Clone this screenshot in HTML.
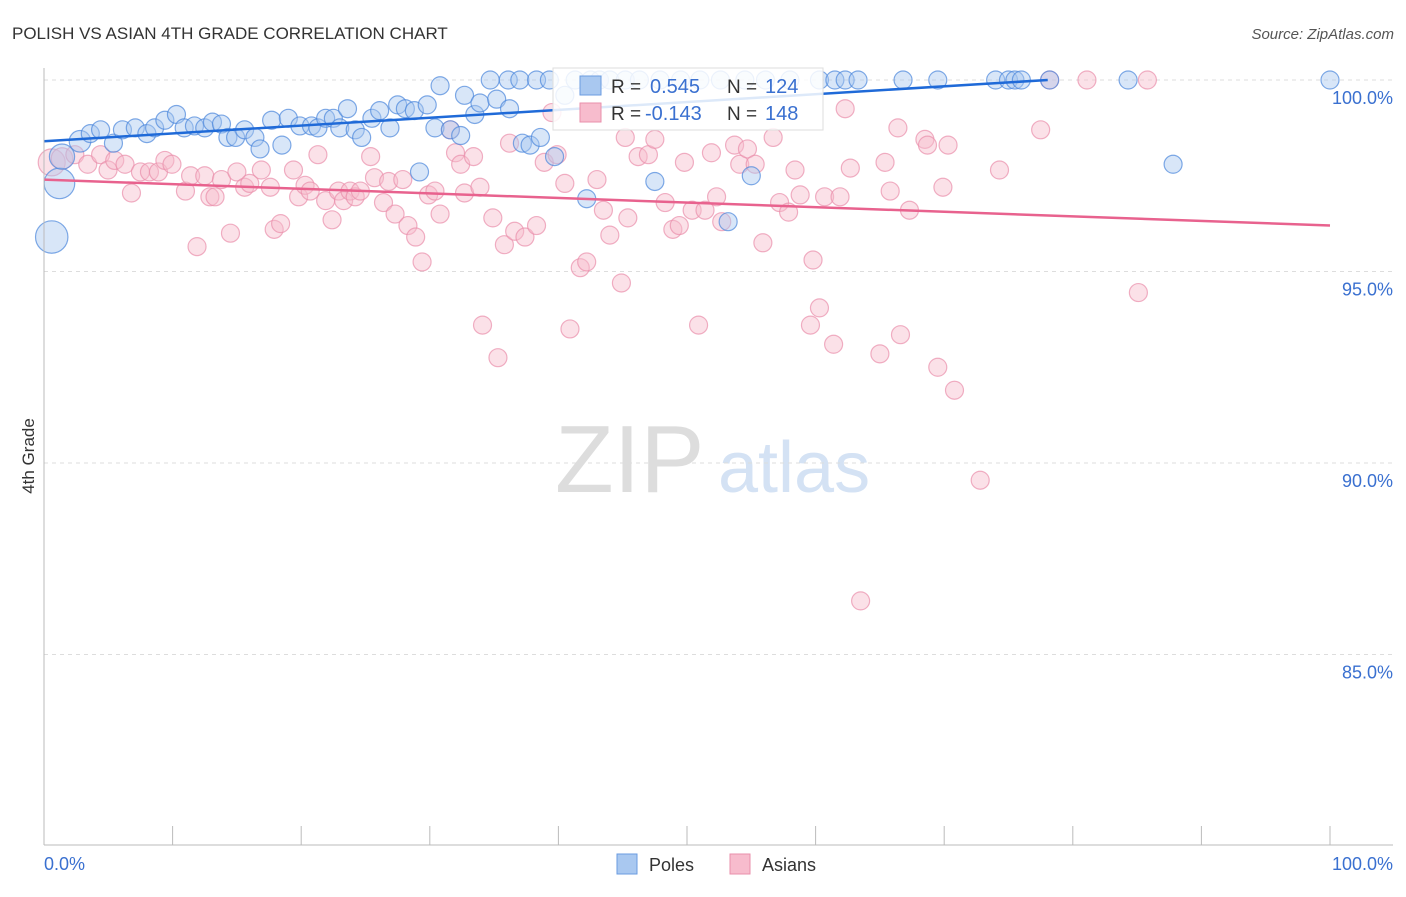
<!DOCTYPE html>
<html><head><meta charset="utf-8"><style>
body{margin:0;background:#fff;font-family:"Liberation Sans",sans-serif;}
svg text{font-family:"Liberation Sans",sans-serif;}
</style></head><body>
<svg id="c" width="1406" height="892">
<text x="12" y="39" font-size="17" fill="#333">POLISH VS ASIAN 4TH GRADE CORRELATION CHART</text>
<text x="1394" y="39" font-size="15" fill="#555" text-anchor="end" font-style="italic">Source: ZipAtlas.com</text>
<text x="555" y="492" font-size="96" fill="#ddd" font-family="Liberation Serif,serif">ZIP</text>
<text x="718" y="492" font-size="72" fill="#d4e2f4">atlas</text>
<g id="grid"></g><g id="pts"></g><g id="axes"></g>
<text transform="translate(34,456) rotate(-90)" font-size="17" fill="#333" text-anchor="middle">4th Grade</text>
<g>
<rect x="553" y="68" width="270" height="62" fill="#fff" fill-opacity="0.85" stroke="#ddd"/>
<rect x="580" y="76" width="21" height="19" fill="#a9c8f0" stroke="#6a9be0"/>
<rect x="580" y="103" width="21" height="19" fill="#f7bccd" stroke="#ea8fab"/>
<text x="611" y="93" font-size="19" fill="#333">R = </text><text x="650" y="93" font-size="20" fill="#3a70d0">0.545</text>
<text x="727" y="93" font-size="19" fill="#333">N = </text><text x="765" y="93" font-size="20" fill="#3a70d0">124</text>
<text x="611" y="120" font-size="19" fill="#333">R = </text><text x="645" y="120" font-size="20" fill="#3a70d0">-0.143</text>
<text x="727" y="120" font-size="19" fill="#333">N = </text><text x="765" y="120" font-size="20" fill="#3a70d0">148</text>
</g>
<g>
<rect x="617" y="854" width="20" height="20" fill="#a9c8f0" stroke="#6a9be0"/>
<text x="649" y="871" font-size="18" fill="#333">Poles</text>
<rect x="730" y="854" width="20" height="20" fill="#f7bccd" stroke="#ea8fab"/>
<text x="762" y="871" font-size="18" fill="#333">Asians</text>
</g>
</svg>
<script>
const yTicks=[100,95,90,85];
const xTickLabels=["0.0%","100.0%"];
const polesX=[1.2,0.6,1.4,2.8,3.6,4.4,5.4,6.1,7.1,8.0,8.6,9.4,10.3,10.9,11.7,12.5,13.1,13.8,14.3,14.9,15.6,16.4,16.8,17.7,18.5,19.0,19.9,20.8,21.3,21.9,22.5,23.0,23.6,24.2,24.7,25.5,26.1,26.9,27.5,28.1,28.8,29.8,29.2,30.4,30.8,31.6,32.4,32.7,33.5,33.9,34.7,35.2,36.1,36.2,37.0,37.2,37.8,38.3,38.6,39.3,39.7,40.5,41.3,42.2,42.5,43.2,44.0,45.2,46.3,47.5,47.9,49.5,51.0,52.6,53.2,54.5,55.0,56.1,58.0,60.3,61.5,62.3,63.3,66.8,69.5,74.0,75.0,75.5,76.0,78.2,84.3,87.8,100];
const polesY=[97.3,95.9,98.0,98.4,98.6,98.7,98.35,98.7,98.75,98.6,98.75,98.95,99.1,98.75,98.8,98.75,98.9,98.85,98.5,98.5,98.7,98.5,98.2,98.95,98.3,99.0,98.8,98.8,98.75,99.0,99.0,98.75,99.25,98.7,98.5,99.0,99.2,98.75,99.35,99.25,99.2,99.35,97.6,98.75,99.85,98.7,98.55,99.6,99.1,99.4,100,99.5,100,99.25,100,98.35,98.3,100,98.5,100,98.0,99.6,100,96.9,100,100,100,100,100,97.35,100,100,100,100,96.3,100,97.5,100,100,100,100,100,100,100,100,100,100,100,100,100,100,97.8,100];
const polesW=[1.7,1.8,1.4,1.2];
const asiansX=[0.6,1.4,2.4,3.4,4.4,4.98,5.5,6.3,6.8,7.5,8.2,8.9,9.4,9.95,11.0,11.4,11.9,12.5,12.9,13.3,13.8,14.5,15.0,15.6,16.0,16.9,17.6,17.9,18.4,19.4,19.8,20.3,20.7,21.3,21.9,22.4,22.9,23.3,23.8,24.2,24.6,25.4,25.7,26.4,26.8,27.3,27.9,28.3,28.9,29.4,29.9,30.4,30.8,31.6,32.0,32.4,32.7,33.4,33.9,34.1,34.9,35.3,35.8,36.2,36.6,37.4,38.3,38.9,39.5,39.9,40.5,40.9,41.7,42.2,43.0,43.5,44.0,44.9,45.2,45.4,46.2,47.0,47.5,48.3,48.9,49.4,49.8,50.4,50.9,51.4,51.9,52.3,52.7,53.7,54.1,54.7,55.3,55.9,56.7,57.2,57.9,58.4,58.8,59.6,59.8,60.3,60.7,61.4,61.9,62.3,62.7,63.5,65.0,65.4,65.8,66.4,66.6,67.3,68.5,68.7,69.5,69.9,70.3,70.8,72.8,74.3,77.5,78.2,81.1,85.1,85.8];
const asiansY=[97.85,97.95,98.05,97.8,98.05,97.65,97.9,97.8,97.05,97.6,97.6,97.6,97.9,97.8,97.1,97.5,95.65,97.5,96.95,96.95,97.4,96.0,97.6,97.2,97.3,97.65,97.2,96.1,96.25,97.65,96.95,97.25,97.1,98.05,96.85,96.35,97.1,96.85,97.1,96.95,97.1,98.0,97.45,96.8,97.35,96.5,97.4,96.2,95.9,95.25,97.0,97.1,96.5,98.7,98.1,97.8,97.05,98.0,97.2,93.6,96.4,92.75,95.7,98.35,96.05,95.9,96.2,97.85,99.15,98.05,97.3,93.5,95.1,95.25,97.4,96.6,95.95,94.7,98.5,96.4,98.0,98.05,98.45,96.8,96.1,96.2,97.85,96.6,93.6,96.6,98.1,96.95,96.3,98.3,97.8,98.2,97.8,95.75,98.5,96.8,96.55,97.65,97.0,93.6,95.3,94.05,96.95,93.1,96.95,99.25,97.7,86.4,92.85,97.85,97.1,98.75,93.35,96.6,98.45,98.3,92.5,97.2,98.3,91.9,89.55,97.65,98.7,100,100,94.45,100];
const asiansW=[1.5,1.2];
const polesTrend=[98.4,100.45];
const asiansTrend=[97.4,96.2];
const X0=44,X1=1330,Y100=80,PX=38.3;
const sx=v=>X0+(X1-X0)*v/100;
const sy=v=>Y100+(100-v)*PX;
const NS="http://www.w3.org/2000/svg";
function mk(t,a,p){const e=document.createElementNS(NS,t);for(const k in a)e.setAttribute(k,a[k]);p.appendChild(e);return e;}
const grid=document.getElementById('grid'),pts=document.getElementById('pts'),axes=document.getElementById('axes');
yTicks.forEach(v=>{
 const l=mk('line',{x1:X0,x2:1393,y1:sy(v),y2:sy(v),stroke:'#ddd','stroke-dasharray':'4,4'},grid);
 
 
 const t=mk('text',{x:1393,y:sy(v)+24,'font-size':18,fill:'#3a70d0','text-anchor':'end'},grid);
 t.textContent=v.toFixed(1)+'%';
 
 
});
function series(xs,ys,ws,fill,stroke,name){
 xs.forEach((x,i)=>{
  const r=9*(ws[i]||1);
  const c=mk('circle',{cx:sx(x),cy:sy(ys[i]),r:r,fill:fill,'fill-opacity':0.45,stroke:stroke,'stroke-opacity':0.7,'stroke-width':1.2},pts);
  
  
 });
}
series(asiansX,asiansY,asiansW,'#f7bccd','#ea8fab','asians-point');
series(polesX,polesY,polesW,'#a9c8f0','#4a86dc','poles-point');
let xe=Math.min(100,(100-polesTrend[0])/((polesTrend[1]-polesTrend[0])/100));
const bt=mk('line',{x1:sx(0),y1:sy(polesTrend[0]),x2:sx(xe),y2:sy(polesTrend[0]+(polesTrend[1]-polesTrend[0])*xe/100),stroke:'#1f6ad8','stroke-width':2.5},pts);


const pt=mk('line',{x1:sx(0),y1:sy(asiansTrend[0]),x2:sx(100),y2:sy(asiansTrend[1]),stroke:'#e8628e','stroke-width':2.5},pts);


const ax=mk('line',{x1:X0,x2:1393,y1:845,y2:845,stroke:'#bbb'},axes);


const ay=mk('line',{x1:X0,x2:X0,y1:68,y2:845,stroke:'#bbb'},axes);


for(let i=0;i<=10;i++){
 const t=mk('line',{x1:sx(i*10),x2:sx(i*10),y1:826,y2:845,stroke:'#bbb'},axes);
 
 
}
[[0,'start',44],[1,'end',1393]].forEach(([i,a,x])=>{
 const t=mk('text',{x:x,y:870,'font-size':18,fill:'#3a70d0','text-anchor':a},axes);
 t.textContent=xTickLabels[i];
 
 
});
</script>
</body></html>
